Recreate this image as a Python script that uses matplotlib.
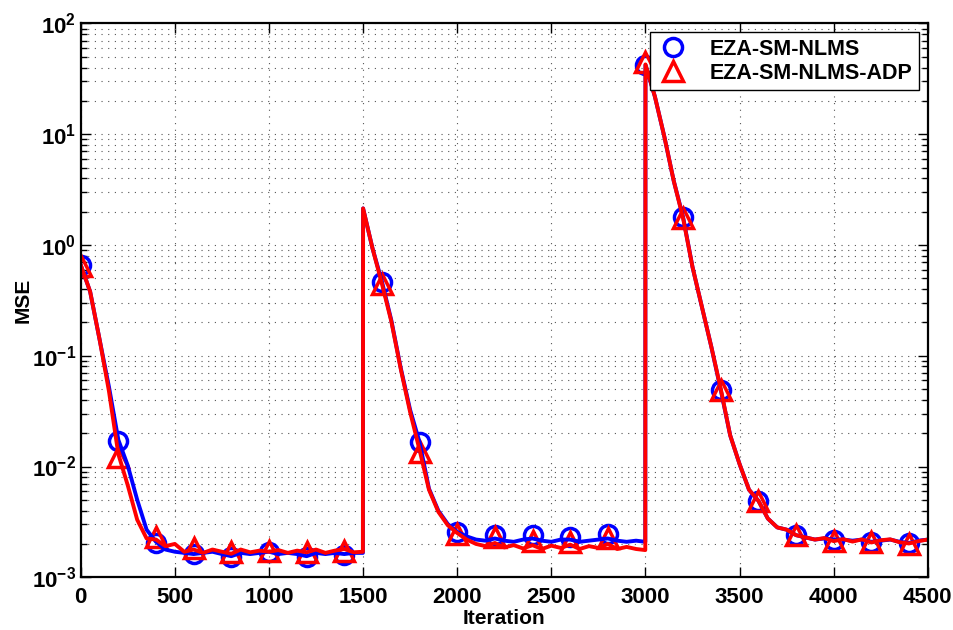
import matplotlib
matplotlib.use("Agg")
import matplotlib.pyplot as plt
import numpy as np
from matplotlib.ticker import FixedLocator, FuncFormatter, LogLocator, NullFormatter

plt.rcParams['font.family'] = ['Liberation Sans', 'DejaVu Sans']
plt.rcParams['font.weight'] = 'bold'
plt.rcParams['mathtext.fontset'] = 'custom'
plt.rcParams['mathtext.rm'] = 'Liberation Sans:bold'
plt.rcParams['mathtext.bf'] = 'Liberation Sans:bold'
plt.rcParams['mathtext.default'] = 'bf'

# iteracoes da curva (o sistema muda em 1500 e 3000)
iters = np.r_[np.arange(0, 1500, 50), 1499,
              np.arange(1500, 3000, 50), 2999,
              np.arange(3000, 4501, 50)]

# MSE do EZA-SM-NLMS
mse_nlms = [
    0.661, 0.380, 0.141, 0.0525, 0.0174, 0.0102, 0.00501, 0.00269, 0.00209, 0.00178,
    0.00170, 0.00166, 0.00162, 0.00166, 0.00170, 0.00162, 0.00155, 0.00166, 0.00162, 0.00166,
    0.00170, 0.00162, 0.00166, 0.00162, 0.00155, 0.00166, 0.00162, 0.00166, 0.00162, 0.00166,
    0.00166,
    2.14, 0.933, 0.468, 0.209, 0.0776, 0.0324, 0.0166, 0.00631, 0.00398, 0.00302,
    0.00257, 0.00234, 0.00219, 0.00214, 0.00224, 0.00214, 0.00209, 0.00219, 0.00224, 0.00214,
    0.00209, 0.00219, 0.00219, 0.00209, 0.00214, 0.00219, 0.00224, 0.00214, 0.00209, 0.00214,
    0.00209,
    42.2, 21.9, 9.55, 3.80, 1.78, 0.631, 0.275, 0.120, 0.0490, 0.0191,
    0.0105, 0.00617, 0.00490, 0.00339, 0.00282, 0.00269, 0.00240, 0.00229, 0.00219, 0.00224,
    0.00219, 0.00219, 0.00214, 0.00219, 0.00209, 0.00214, 0.00219, 0.00209, 0.00204, 0.00214,
    0.00219,
]

# MSE do EZA-SM-NLMS-ADP
mse_adp = [
    0.661, 0.380, 0.141, 0.0479, 0.0129, 0.00676, 0.00331, 0.00224, 0.00219, 0.00191,
    0.00200, 0.00170, 0.00178, 0.00166, 0.00178, 0.00170, 0.00163, 0.00178, 0.00168, 0.00174,
    0.00170, 0.00176, 0.00166, 0.00174, 0.00168, 0.00178, 0.00166, 0.00174, 0.00180, 0.00168,
    0.00170,
    2.14, 0.933, 0.447, 0.204, 0.0759, 0.0309, 0.0141, 0.00617, 0.00389, 0.00295,
    0.00251, 0.00219, 0.00200, 0.00191, 0.00204, 0.00186, 0.00195, 0.00182, 0.00195, 0.00180,
    0.00193, 0.00184, 0.00197, 0.00180, 0.00191, 0.00184, 0.00200, 0.00180, 0.00188, 0.00180,
    0.00176,
    42.7, 21.9, 9.55, 3.80, 1.74, 0.631, 0.275, 0.120, 0.0501, 0.0191,
    0.0105, 0.00617, 0.00490, 0.00339, 0.00282, 0.00269, 0.00240, 0.00229, 0.00219, 0.00226,
    0.00212, 0.00221, 0.00210, 0.00220, 0.00206, 0.00216, 0.00220, 0.00207, 0.00202, 0.00212,
    0.00219,
]

# marcadores a cada 200 iteracoes
iters_mk = np.arange(0, 4401, 200)
mk_nlms = [0.661, 0.0170, 0.00204, 0.00162, 0.00151, 0.00170, 0.00151, 0.00158,
           0.468, 0.0166, 0.00257, 0.00240, 0.00240, 0.00229, 0.00245,
           42.2, 1.78, 0.0490, 0.00490, 0.00240, 0.00219, 0.00209, 0.00204]
mk_adp = [0.646, 0.0123, 0.00229, 0.00182, 0.00170, 0.00174, 0.00170, 0.00174,
          0.447, 0.0135, 0.00245, 0.00229, 0.00214, 0.00209, 0.00224,
          45.2, 1.74, 0.0490, 0.00490, 0.00240, 0.00214, 0.00209, 0.00200]

labels = ["EZA-SM-NLMS", "EZA-SM-NLMS-ADP"]

fig = plt.figure(figsize=(9.54, 6.30), dpi=100)
ax = fig.add_axes([0.0846, 0.0837, 0.888, 0.879])

# grade pontilhada estilo matlab
ax.set_axisbelow(True)
ax.grid(True, which='major', linestyle=(0, (1, 5)), color='#555555', linewidth=0.8)
ax.grid(True, which='minor', axis='y', linestyle=(0, (1, 5)), color='#555555', linewidth=0.8)

# marcadores primeiro (sao eles que vao para a legenda)
ax.plot(iters_mk, mk_nlms, 'o', color='#0000ff', markerfacecolor='none',
        markersize=13, markeredgewidth=2.5, label=labels[0])
ax.plot(iters_mk, mk_adp, '^', color='#ff0000', markerfacecolor='none',
        markersize=15, markeredgewidth=2.5, label=labels[1])

# curvas
ax.plot(iters, mse_nlms, '-', color='#0000ff', linewidth=2.8)
ax.plot(iters, mse_adp, '-', color='#ff0000', linewidth=2.8)

ax.set_yscale('log')
ax.set_xlim(0, 4500)
ax.set_ylim(1e-3, 1e2)

ax.set_xticks(np.arange(0, 4501, 500))
ax.yaxis.set_major_locator(FixedLocator([1e-3, 1e-2, 1e-1, 1e0, 1e1, 1e2]))
ax.yaxis.set_minor_locator(LogLocator(base=10, subs=np.arange(2, 10), numticks=20))
ax.yaxis.set_minor_formatter(NullFormatter())
ax.yaxis.set_major_formatter(FuncFormatter(lambda v, p: r'$\mathbf{10^{%d}}$' % round(np.log10(v))))

ax.tick_params(which='both', direction='in', top=True, right=True, labelsize=16, width=1)
ax.tick_params(axis='x', pad=7)
ax.tick_params(which='major', length=7)
ax.tick_params(which='minor', length=4)
for s in ax.spines.values():
    s.set_linewidth(1.6)

ax.set_xlabel("Iteration", fontsize=15, fontweight='bold', labelpad=1)
ax.set_ylabel("MSE", fontsize=15, fontweight='bold', labelpad=-1)

leg = ax.legend(loc='upper right', fontsize=15.5, handlelength=1.6, handletextpad=0.9,
                borderpad=0.3, labelspacing=0.15, borderaxespad=0.4, fancybox=False,
                framealpha=1, edgecolor='black')
leg.get_frame().set_linewidth(1.0)

fig.savefig("out.png", dpi=100)
